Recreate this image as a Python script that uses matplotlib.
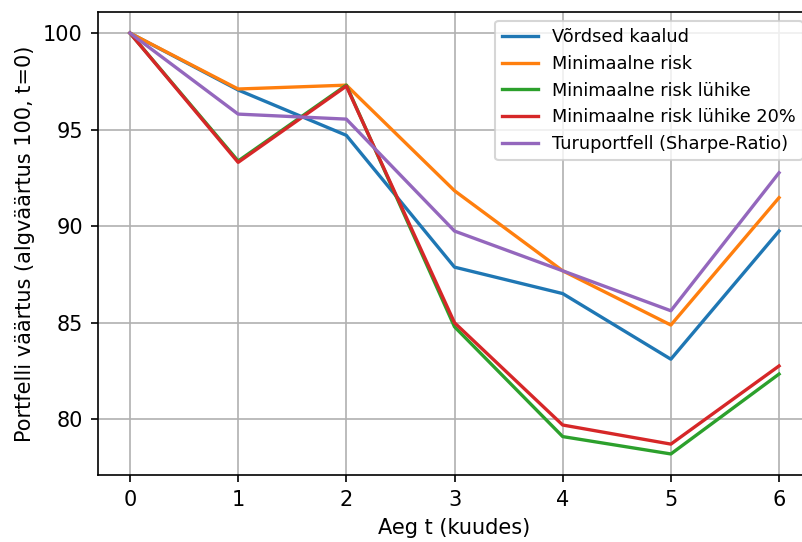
import numpy as np
import matplotlib
matplotlib.use("Agg")
import matplotlib.pyplot as plt

t = [0, 1, 2, 3, 4, 5, 6]

vordsed = [100, 97.05, 94.70, 87.87, 86.50, 83.10, 89.74]
min_risk = [100, 97.10, 97.30, 91.83, 87.68, 84.87, 91.47]
min_risk_luhike = [100, 93.37, 97.30, 84.78, 79.09, 78.19, 82.33]
min_risk_luhike20 = [100, 93.30, 97.25, 84.99, 79.69, 78.70, 82.75]
turuportfell = [100, 95.80, 95.54, 89.74, 87.68, 85.61, 92.76]

labels = ["Võrdsed kaalud", "Minimaalne risk", "Minimaalne risk lühike",
          "Minimaalne risk lühike 20%", "Turuportfell (Sharpe-Ratio)"]

dpi = 150
fig = plt.figure(figsize=(802 / dpi, 542 / dpi), dpi=dpi)
# axes run a bit past the right edge, like the cropped original
ax = fig.add_axes([97.5 / 802, 1 - 475 / 542, (811.5 - 97.5) / 802, (475 - 12) / 542])

for serie, lab in zip([vordsed, min_risk, min_risk_luhike, min_risk_luhike20, turuportfell], labels):
    ax.plot(t, serie, label=lab, linewidth=1.6)

ax.set_xlabel("Aeg t (kuudes)")
ax.set_ylabel("Portfelli väärtus (algväärtus 100, t=0)")
ax.grid()
ax.legend(loc="upper right", fontsize=8.5)

fig.savefig("out.png", dpi=dpi)
